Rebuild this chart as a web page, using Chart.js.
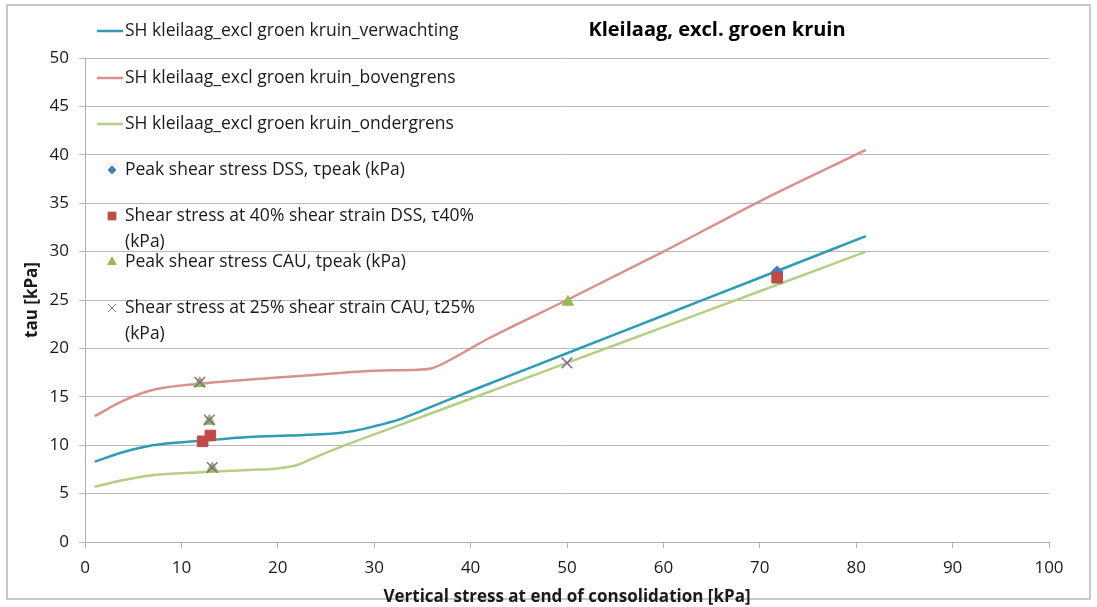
<!DOCTYPE html>
<html>
<head>
<meta charset="utf-8">
<script src="https://cdn.jsdelivr.net/npm/chart.js@4.4.1/dist/chart.umd.min.js"></script>
<style>
  html, body { margin: 0; padding: 0; background: #fff; }
  #wrap { width: 1097px; height: 607px; position: relative; }
</style>
</head>
<body>
<div id="wrap"><canvas id="chart" width="1097" height="607"></canvas></div>
<script>
// curves (smoothed lines)
const verwachtingX = [1, 4, 7, 12, 17, 21, 25, 28, 30, 32.7, 35, 40, 50, 60, 70, 81];
const verwachtingY = [8.3, 9.3, 10.0, 10.45, 10.85, 11.0, 11.15, 11.5, 11.95, 12.7, 13.6, 15.6, 19.5, 23.4, 27.3, 31.6];
const bovengrensX = [1, 4, 7, 12, 20, 25, 30, 34.5, 36, 38.6, 40, 42, 50, 60, 70, 81];
const bovengrensY = [13.0, 14.6, 15.7, 16.35, 17.0, 17.35, 17.7, 17.8, 17.95, 19.2, 20.0, 21.1, 25.0, 30.0, 35.2, 40.5];
const ondergrensX = [1, 4, 7, 12, 17, 20, 22, 24, 27, 32.7, 40, 50, 60, 70, 81];
const ondergrensY = [5.7, 6.4, 6.9, 7.2, 7.45, 7.6, 7.95, 8.8, 10.0, 12.1, 14.8, 18.5, 22.2, 25.9, 30.0];

// measurements
const dssPeakX = [71.8];
const dssPeakY = [27.9];
const dss40X = [12.2, 13.0, 71.8];
const dss40Y = [10.4, 11.0, 27.3];
const cauPeakX = [11.9, 12.9, 13.2, 50.1];
const cauPeakY = [16.4, 12.5, 7.6, 24.8];
const cau25X = [11.9, 12.9, 13.2, 50.0];
const cau25Y = [16.5, 12.6, 7.7, 18.5];

const seriesNames = [
  'SH kleilaag_excl groen kruin_verwachting',
  'SH kleilaag_excl groen kruin_bovengrens',
  'SH kleilaag_excl groen kruin_ondergrens',
  'Peak shear stress DSS, τpeak (kPa)',
  ['Shear stress at 40% shear strain DSS, τ40%', '(kPa)'],
  'Peak shear stress CAU, tpeak (kPa)',
  ['Shear stress at 25% shear strain CAU, t25%', '(kPa)']
];

const xTicks = [0, 10, 20, 30, 40, 50, 60, 70, 80, 90, 100];
const yTicks = [0, 5, 10, 15, 20, 25, 30, 35, 40, 45, 50];

const chartTitle = 'Kleilaag, excl. groen kruin';
const xTitle = 'Vertical stress at end of consolidation [kPa]';
const yTitle = 'tau [kPa]';

const FONT = '"Open Sans", Lato, sans-serif';

function pts(xs, ys) {
  return xs.map((x, i) => ({ x: x, y: ys[i] }));
}

function curve(label, xs, ys, color) {
  return {
    label: label, data: pts(xs, ys), showLine: true, borderColor: color,
    backgroundColor: color, borderWidth: 2.5, pointRadius: 0, tension: 0.4,
    cubicInterpolationMode: 'monotone', order: 10
  };
}

function marker(label, xs, ys, style, color, radius, legendRadius, order) {
  return {
    label: label, data: pts(xs, ys), showLine: false, pointStyle: style,
    pointRadius: radius, pointBackgroundColor: color, pointBorderColor: color,
    pointBorderWidth: style === 'crossRot' ? 1.5 : 1, order: order,
    legendRadius: legendRadius
  };
}

// legend, title and frame drawn by hand
const decor = {
  id: 'decor',
  beforeDraw(chart) {
    const ctx = chart.ctx;
    ctx.save();
    ctx.strokeStyle = '#b7b7b7';
    ctx.lineWidth = 1.5;
    ctx.strokeRect(7, 5, 1083, 594);
    ctx.restore();
  },
  afterDraw(chart) {
    const ctx = chart.ctx;
    ctx.save();
    ctx.fillStyle = '#000';
    ctx.font = 'bold 20px ' + FONT;
    ctx.textAlign = 'center';
    ctx.textBaseline = 'middle';
    ctx.fillText(chartTitle, 717, 30);

    const rows = [31, 78, 124, 170, 216, 262, 308];
    ctx.font = '17.5px ' + FONT;
    ctx.textAlign = 'left';
    chart.data.datasets.forEach((ds, i) => {
      const y = rows[i];
      if (i < 3) {
        ctx.strokeStyle = ds.borderColor;
        ctx.lineWidth = 2.5;
        ctx.beginPath();
        ctx.moveTo(97, y);
        ctx.lineTo(123, y);
        ctx.stroke();
      } else {
        ctx.fillStyle = ds.pointBackgroundColor;
        ctx.strokeStyle = ds.pointBorderColor;
        ctx.lineWidth = 1;
        Chart.helpers.drawPoint(ctx, {
          pointStyle: ds.pointStyle, radius: ds.legendRadius,
          borderWidth: 1, rotation: 0
        }, 112, y);
      }
      ctx.fillStyle = '#1a1a1a';
      const lines = Array.isArray(seriesNames[i]) ? seriesNames[i] : [seriesNames[i]];
      lines.forEach((t, k) => ctx.fillText(t, 125, y + k * 26));
    });
    ctx.restore();
  }
};

new Chart(document.getElementById('chart').getContext('2d'), {
  type: 'scatter',
  data: {
    datasets: [
      curve(seriesNames[0], verwachtingX, verwachtingY, '#2f9cb5'),
      curve(seriesNames[1], bovengrensX, bovengrensY, '#d9908f'),
      curve(seriesNames[2], ondergrensX, ondergrensY, '#b3cf86'),
      marker(seriesNames[3], dssPeakX, dssPeakY, 'rectRot', '#4a7ebb', 6, 4, 4),
      marker(seriesNames[4], dss40X, dss40Y, 'rect', '#be4b48', 7.5, 5.5, 3),
      marker(seriesNames[5], cauPeakX, cauPeakY, 'triangle', '#98b954', 6.5, 5, 2),
      marker(seriesNames[6], cau25X, cau25Y, 'crossRot', '#7d6a9c', 7.5, 5.5, 1)
    ]
  },
  options: {
    responsive: false,
    animation: false,
    layout: { padding: { left: 0, right: 48, top: 58, bottom: 0 } },
    plugins: {
      legend: { display: false },
      tooltip: { enabled: false },
      title: { display: false }
    },
    scales: {
      x: {
        type: 'linear', min: 0, max: 100,
        afterBuildTicks: (s) => { s.ticks = xTicks.map(v => ({ value: v })); },
        afterFit: (s) => { s.height = 65; },
        grid: { drawOnChartArea: false, color: '#b0b0b0', tickLength: 6, lineWidth: 1 },
        border: { color: '#b0b0b0', width: 1 },
        ticks: { color: '#1a1a1a', font: { family: FONT, size: 17 }, padding: 10, maxRotation: 0 },
        title: { display: true, text: xTitle, color: '#1a1a1a', font: { family: FONT, size: 17, weight: 'bold' }, padding: { top: 0, bottom: 0 } }
      },
      y: {
        type: 'linear', min: 0, max: 50,
        afterBuildTicks: (s) => { s.ticks = yTicks.map(v => ({ value: v })); },
        afterFit: (s) => { s.width = 85; },
        grid: { color: '#b8b8b8', tickLength: 6, lineWidth: 1 },
        border: { color: '#b0b0b0', width: 1 },
        ticks: { color: '#1a1a1a', font: { family: FONT, size: 17 }, padding: 10 },
        title: { display: true, text: yTitle, color: '#1a1a1a', font: { family: FONT, size: 17, weight: 'bold' }, padding: { top: 22, bottom: 0 } }
      }
    }
  },
  plugins: [decor]
});
</script>
</body>
</html>
